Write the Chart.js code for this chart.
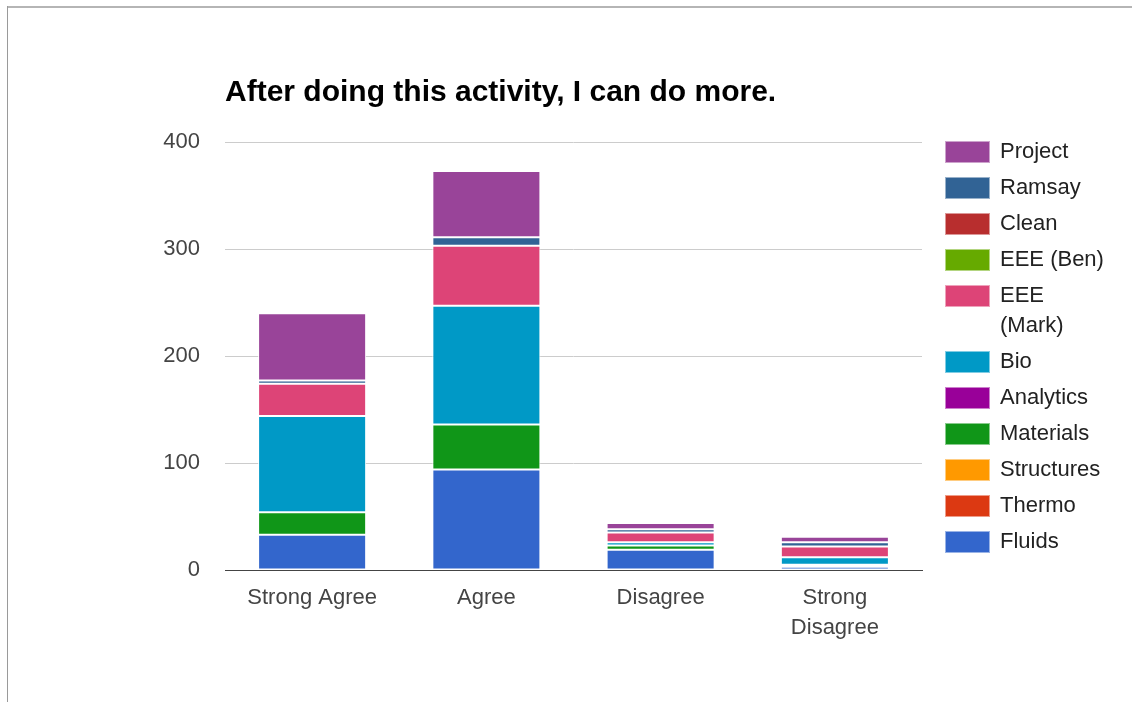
<!DOCTYPE html>
<html>
<head>
<meta charset="utf-8">
<script src="https://cdn.jsdelivr.net/npm/chart.js@4/dist/chart.umd.min.js"></script>
<style>
  html, body { margin: 0; padding: 0; background: #fff; }
  #wrap { position: relative; width: 1132px; height: 702px; overflow: hidden; }
  #frameTop { position: absolute; left: 7px; top: 6px; width: 1125px; height: 0; border-top: 2px solid #b5b5b5; }
  #frameLeft { position: absolute; left: 7px; top: 6px; width: 0; height: 696px; border-left: 1px solid #9a9a9a; }
  canvas { position: absolute; left: 0; top: 0; }
</style>
</head>
<body>
<div id="wrap">
  <canvas id="c" width="1132" height="702"></canvas>
  <div id="frameTop"></div>
  <div id="frameLeft"></div>
</div>
<script>
// ---- data ----
const categories = ['Strong Agree', 'Agree', 'Disagree', ['Strong', 'Disagree']];
const yTicks = [0, 100, 200, 300, 400];
const title = 'After doing this activity, I can do more.';

const seriesNames = ['Fluids', 'Thermo', 'Structures', 'Materials', 'Analytics', 'Bio',
                     'EEE (Mark)', 'EEE (Ben)', 'Clean', 'Ramsay', 'Project'];
const fluids     = [33, 94, 19, 3];
const thermo     = [0, 0, 0, 0];
const structures = [0, 0, 0, 0];
const materials  = [21, 42, 4, 2];
const analytics  = [0, 0, 0, 0];
const bio        = [90, 111, 3, 7];
const eeeMark    = [30, 56, 9, 10];
const eeeBen     = [0, 0, 0, 0];
const clean      = [0, 0, 0, 0];
const ramsay     = [3, 8, 3, 4];
const project    = [63, 62, 6, 5];

const seriesValues = [fluids, thermo, structures, materials, analytics, bio,
                      eeeMark, eeeBen, clean, ramsay, project];
const seriesColors = ['#3366cc', '#dc3912', '#ff9900', '#109618', '#990099', '#0099c6',
                      '#dd4477', '#66aa00', '#b82e2e', '#316395', '#994499'];

const FONT = '"Liberation Sans", Arial, sans-serif';

const datasets = seriesNames.map((name, i) => ({
  label: name,
  data: seriesValues[i],
  backgroundColor: seriesColors[i],
  borderColor: '#ffffff',
  borderWidth: 1,
  borderSkipped: false,
  barPercentage: 0.62,
  categoryPercentage: 1.0
}));

const overlayPlugin = {
  id: 'overlay',
  afterDraw(chart) {
    const ctx = chart.ctx;
    ctx.save();
    // title
    ctx.fillStyle = '#000';
    ctx.font = 'bold 30px ' + FONT;
    ctx.textAlign = 'left';
    ctx.textBaseline = 'alphabetic';
    ctx.fillText(title, 225, 101);

    // legend (reverse order, Project at top)
    ctx.font = '22px ' + FONT;
    ctx.textBaseline = 'middle';
    let y = 152;
    const maxW = 110;
    for (let i = chart.data.datasets.length - 1; i >= 0; i--) {
      const ds = chart.data.datasets[i];
      const words = ds.label.split(' ');
      const lines = [];
      let cur = '';
      words.forEach(w => {
        const t = cur ? cur + ' ' + w : w;
        if (ctx.measureText(t).width > maxW && cur) { lines.push(cur); cur = w; }
        else cur = t;
      });
      lines.push(cur);
      ctx.fillStyle = ds.backgroundColor;
      ctx.fillRect(945, y - 11, 45, 22);
      ctx.strokeStyle = 'rgba(255,255,255,0.5)';
      ctx.lineWidth = 1;
      ctx.strokeRect(945.5, y - 10.5, 44, 21);
      ctx.fillStyle = '#222';
      lines.forEach((ln, k) => ctx.fillText(ln, 1000, y + k * 30));
      y += 36 + (lines.length - 1) * 30;
    }
    ctx.restore();
  }
};

new Chart(document.getElementById('c'), {
  type: 'bar',
  data: { labels: categories, datasets: datasets },
  options: {
    responsive: false,
    animation: false,
    devicePixelRatio: 1,
    layout: { padding: { left: 140, right: 210, top: 142, bottom: 60 } },
    plugins: {
      legend: { display: false },
      title: { display: false },
      tooltip: { enabled: false }
    },
    scales: {
      x: {
        stacked: true,
        grid: { display: false, drawTicks: false },
        border: { display: true, color: '#444', width: 1 },
        ticks: {
          color: '#444',
          font: { family: FONT, size: 22, lineHeight: 1.36 },
          padding: 13,
          maxRotation: 0,
          autoSkip: false
        },
        afterFit(scale) { scale.height = 72; }
      },
      y: {
        stacked: true,
        min: 0,
        max: 400,
        afterBuildTicks(scale) { scale.ticks = yTicks.map(v => ({ value: v })); },
        grid: {
          color: ctx => (ctx.tick && ctx.tick.value === 0) ? '#444' : '#cccccc',
          lineWidth: 1,
          drawTicks: false
        },
        border: { display: false },
        ticks: {
          color: '#444',
          font: { family: FONT, size: 22 },
          padding: 25
        },
        afterFit(scale) { scale.width = 85; }
      }
    }
  },
  plugins: [overlayPlugin]
});
</script>
</body>
</html>
